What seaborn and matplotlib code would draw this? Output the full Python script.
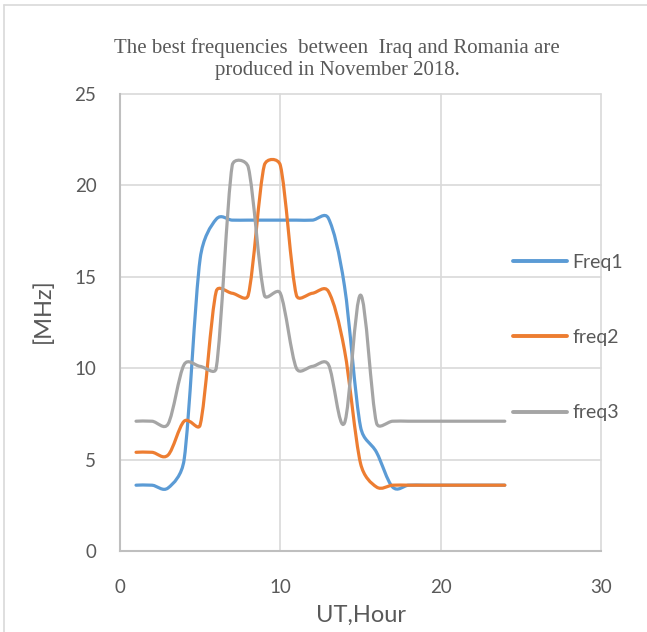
import numpy as np
import pandas as pd

import matplotlib
matplotlib.use('Agg')
import matplotlib.pyplot as plt
from matplotlib.path import Path
from matplotlib.patches import PathPatch
from matplotlib.lines import Line2D
import seaborn as sns

# values (UT hour 1..24)
hours = list(range(1, 25))
freq1 = [3.6, 3.6, 3.45, 5.0, 16.0, 18.15, 18.1, 18.1, 18.1, 18.1, 18.1, 18.1,
         18.2, 14.5, 6.8, 5.4, 3.5, 3.6, 3.6, 3.6, 3.6, 3.6, 3.6, 3.6]
freq2 = [5.4, 5.4, 5.25, 7.1, 6.9, 14.2, 14.1, 14.0, 21.1, 21.1, 14.0, 14.1,
         14.2, 11.0, 4.8, 3.5, 3.6, 3.6, 3.6, 3.6, 3.6, 3.6, 3.6, 3.6]
freq3 = [7.1, 7.1, 6.95, 10.2, 10.1, 10.0, 21.1, 21.0, 14.0, 14.1, 10.0, 10.1,
         10.2, 7.0, 14.0, 7.0, 7.1, 7.1, 7.1, 7.1, 7.1, 7.1, 7.1, 7.1]
series_names = ['Freq1', 'freq2', 'freq3']
colors = ['#5B9BD5', '#ED7D31', '#A5A5A5']

title = "The best frequencies  between  Iraq and Romania are\nproduced in November 2018."

data = pd.concat([
    pd.DataFrame({'hour': hours, 'MHz': vals, 'series': name})
    for name, vals in zip(series_names, [freq1, freq2, freq3])
])

sns.set_theme(style='white')
plt.rcParams['font.family'] = ['Lato', 'DejaVu Sans']

fig = plt.figure(figsize=(6.47, 6.32), dpi=100)
ax = fig.add_axes([120 / 647, 1 - 551 / 632, 481 / 647, 457 / 632])

sns.lineplot(data=data, x='hour', y='MHz', hue='series', hue_order=series_names,
             palette=colors, linewidth=2.3, legend=False, ax=ax)

ax.set_xlim(0, 30)
ax.set_ylim(0, 25)

# pixels per data unit, so the smoothing is done in screen space like Excel
sx = 481 / 30
sy = 457 / 25


def smooth_path(x, y):
    # Excel-style smoothed line: cubic bezier, control arms capped at half a segment
    p = np.column_stack([np.asarray(x, float) * sx, np.asarray(y, float) * sy])
    pp = np.vstack([p[0], p, p[-1]])
    verts = [tuple(p[0])]
    codes = [Path.MOVETO]
    for i in range(1, len(p)):
        p0, p1, p2, p3 = pp[i - 1], pp[i], pp[i + 1], pp[i + 2]
        seg = np.linalg.norm(p2 - p1)
        a1 = (p2 - p0) / 6
        a2 = (p3 - p1) / 6
        for a in (a1, a2):
            n = np.linalg.norm(a)
            if n > seg / 2:
                a *= (seg / 2) / n
        c1 = p1 + a1
        c2 = p2 - a2
        verts += [tuple(c1), tuple(c2), tuple(p2)]
        codes += [Path.CURVE4] * 3
    verts = [(vx / sx, vy / sy) for vx, vy in verts]
    return Path(verts, codes)


# swap seaborn's straight segments for smoothed curves
for line in list(ax.lines):
    xd, yd = line.get_xdata(), line.get_ydata()
    patch = PathPatch(smooth_path(xd, yd), facecolor='none', edgecolor=line.get_color(),
                      lw=line.get_linewidth(), capstyle='round', joinstyle='round', zorder=3)
    ax.add_patch(patch)
    line.set_visible(False)

ax.set_xticks([0, 10, 20, 30])
ax.set_yticks([0, 5, 10, 15, 20, 25])
ax.grid(True, color='#D9D9D9', lw=1.2)
for gl in ax.get_xgridlines() + ax.get_ygridlines():
    gl.set_clip_on(False)
ax.set_axisbelow(True)
for side in ['top', 'right']:
    ax.spines[side].set_visible(False)
for side in ['left', 'bottom']:
    ax.spines[side].set_color('#BFBFBF')
    ax.spines[side].set_linewidth(1.5)
ax.tick_params(axis='x', length=0, pad=20, labelsize=13.5, labelcolor='#595959')
ax.tick_params(axis='y', length=0, pad=17, labelsize=13.5, labelcolor='#595959')

ax.set_xlabel('UT,Hour', fontsize=17, color='#595959')
ax.set_ylabel('[MHz]', fontsize=17, color='#595959')
ax.xaxis.set_label_coords(0.5, (551 - 605) / 457)
ax.yaxis.set_label_coords((54 - 120) / 481, (551 - 311) / 457)

fig.text(337 / 647, 1 - 59 / 632, title, ha='center', va='center', fontsize=15,
         family='Liberation Serif', color='#595959', linespacing=1.2)

handles = [Line2D([], [], color=c, lw=2.8) for c in colors]
leg = fig.legend(handles, series_names, loc='center left',
                 bbox_to_anchor=(513 / 647, 1 - 337.5 / 632), frameon=False,
                 fontsize=14, handlelength=2.8, handletextpad=0.25,
                 labelspacing=3.0, borderpad=0, borderaxespad=0)
for t in leg.get_texts():
    t.set_color('#595959')

# outer chart border (left and top edges visible)
fig.add_artist(Line2D([4 / 647, 4 / 647], [0, 1 - 5 / 632], color='#D9D9D9', lw=1.2))
fig.add_artist(Line2D([4 / 647, 1], [1 - 5 / 632, 1 - 5 / 632], color='#D9D9D9', lw=1.2))

fig.savefig('out.png', dpi=100)
plt.close()
